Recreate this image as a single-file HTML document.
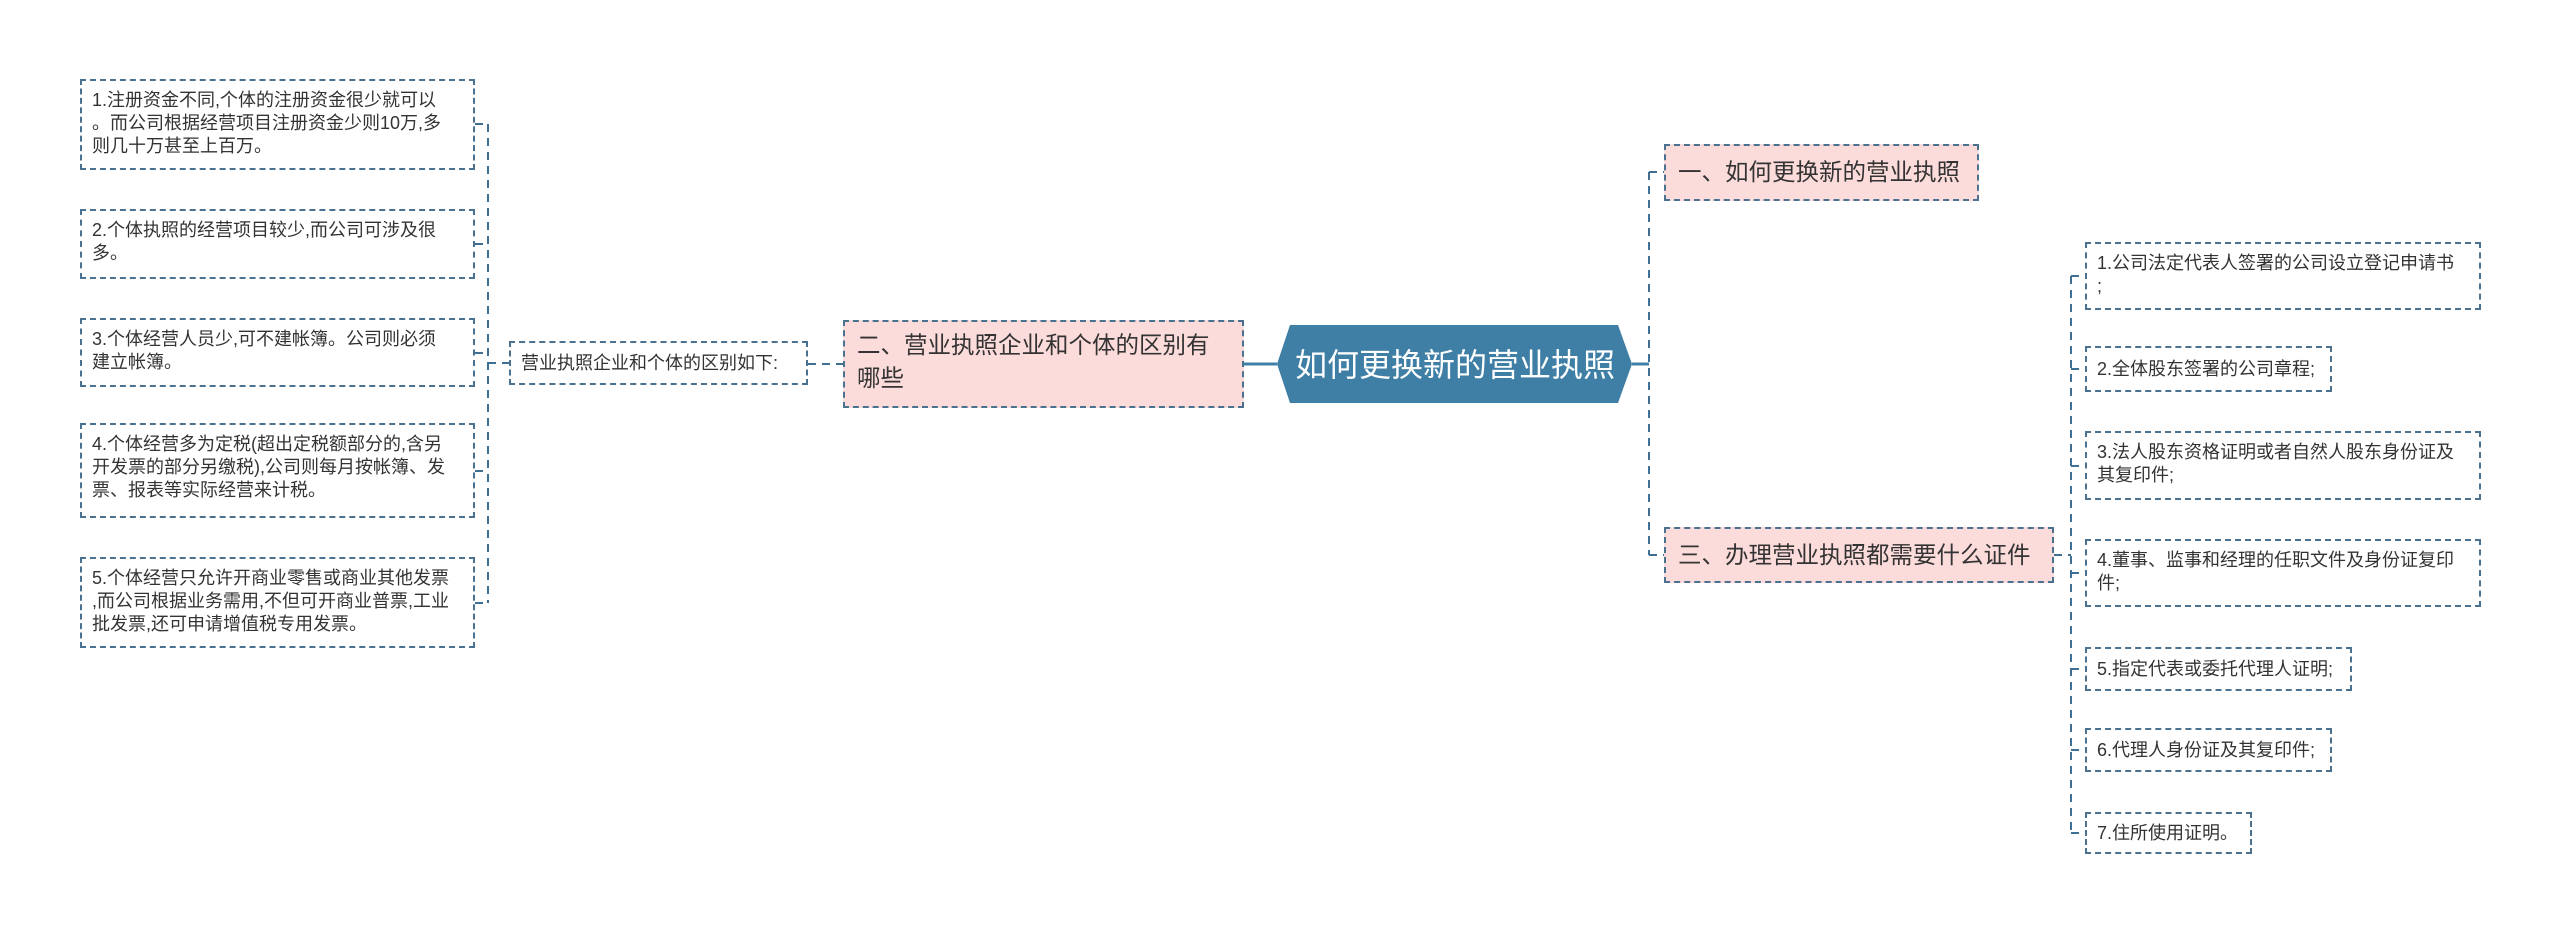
<!DOCTYPE html>
<html><head><meta charset="utf-8"><style>
body{margin:0;width:2560px;height:935px;background:#fff;position:relative;overflow:hidden;font-family:"Liberation Sans","Noto Sans CJK SC",sans-serif;}
.b{position:absolute;box-sizing:border-box;border:2px dashed #4a7190;color:#333;font-size:18px;line-height:23px;padding:8px 8px 6px 10px;white-space:nowrap;}
.p{background:#fcdbdb;font-size:23.5px;line-height:33px;color:#333;padding:7px 12px;}
svg{position:absolute;left:0;top:0}
</style></head><body>
<svg width="2560" height="935">
<g stroke="#3f6f92" stroke-width="2" fill="none" stroke-dasharray="8,6">
<path d="M488 124 V603 M475 124 H488 M475 244 H488 M475 353 H488 M475 471 H488 M475 603 H488 M488 363 H509 M808 364 H843"/>
<path d="M1649 172 V555 M1649 172 H1664 M1649 555 H1664"/>
<path d="M2071 276 V833 M2054 555 H2071 M2071 276 H2085 M2071 369 H2085 M2071 466 H2085 M2071 573 H2085 M2071 669 H2085 M2071 750 H2085 M2071 833 H2085"/>
</g>
<g stroke="#3f7fa6" stroke-width="3"><path d="M1244 364 H1277 M1632 364 H1649"/></g>
<polygon points="1290,325 1618,325 1632,364 1618,403 1290,403 1277,364" fill="#3f7fa6"/>
<text x="1455" y="376" fill="#fff" font-size="32" text-anchor="middle" font-family="Liberation Sans, Noto Sans CJK SC, sans-serif">如何更换新的营业执照</text>
</svg>
<div class="b" style="left:80px;top:79px;width:395px;height:91px">1.注册资金不同,个体的注册资金很少就可以<br>。而公司根据经营项目注册资金少则10万,多<br>则几十万甚至上百万。</div>
<div class="b" style="left:80px;top:209px;width:395px;height:70px">2.个体执照的经营项目较少,而公司可涉及很<br>多。</div>
<div class="b" style="left:80px;top:318px;width:395px;height:69px">3.个体经营人员少,可不建帐簿。公司则必须<br>建立帐簿。</div>
<div class="b" style="left:80px;top:423px;width:395px;height:95px">4.个体经营多为定税(超出定税额部分的,含另<br>开发票的部分另缴税),公司则每月按帐簿、发<br>票、报表等实际经营来计税。</div>
<div class="b" style="left:80px;top:557px;width:395px;height:91px">5.个体经营只允许开商业零售或商业其他发票<br>,而公司根据业务需用,不但可开商业普票,工业<br>批发票,还可申请增值税专用发票。</div>
<div class="b" style="left:509px;top:341px;width:299px;height:44px;padding-top:9px">营业执照企业和个体的区别如下:</div>
<div class="b p" style="left:843px;top:320px;width:401px;height:88px;white-space:normal">二、营业执照企业和个体的区别有<br>哪些</div>
<div class="b p" style="left:1664px;top:144px;width:315px;height:57px;padding-top:10px">一、如何更换新的营业执照</div>
<div class="b p" style="left:1664px;top:527px;width:390px;height:56px;padding-top:10px">三、办理营业执照都需要什么证件</div>
<div class="b" style="left:2085px;top:242px;width:396px;height:68px">1.公司法定代表人签署的公司设立登记申请书<br>;</div>
<div class="b" style="left:2085px;top:346px;width:247px;height:46px;padding-top:10px">2.全体股东签署的公司章程;</div>
<div class="b" style="left:2085px;top:431px;width:396px;height:69px">3.法人股东资格证明或者自然人股东身份证及<br>其复印件;</div>
<div class="b" style="left:2085px;top:539px;width:396px;height:68px">4.董事、监事和经理的任职文件及身份证复印<br>件;</div>
<div class="b" style="left:2085px;top:647px;width:267px;height:44px;padding-top:9px">5.指定代表或委托代理人证明;</div>
<div class="b" style="left:2085px;top:728px;width:247px;height:44px;padding-top:9px">6.代理人身份证及其复印件;</div>
<div class="b" style="left:2085px;top:812px;width:167px;height:42px;padding-top:8px">7.住所使用证明。</div>
</body></html>
